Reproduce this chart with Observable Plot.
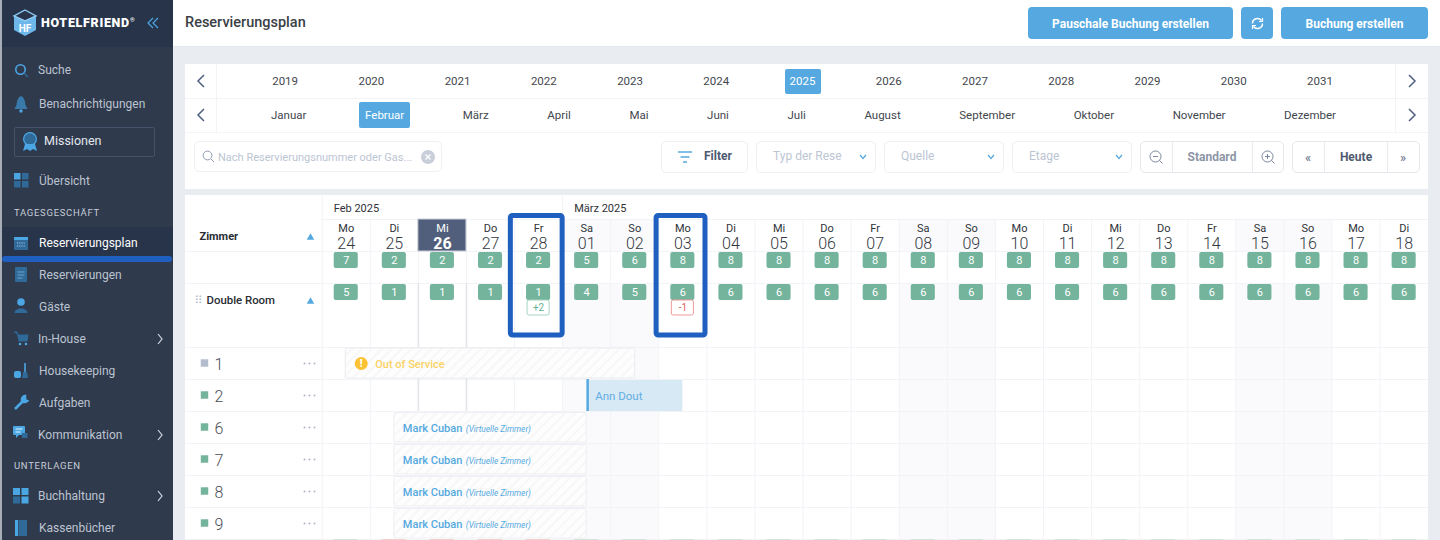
<!DOCTYPE html>
<html lang="de">
<head>
<meta charset="utf-8">
<title>Reservierungsplan</title>
<script src="https://cdn.jsdelivr.net/npm/d3@7"></script>
<script src="https://cdn.jsdelivr.net/npm/@observablehq/plot@0.6"></script>
<style>
  html,body{margin:0;padding:0;background:#e9ecf0;font-family:Roboto,sans-serif;overflow:hidden;}
  #app{position:relative;width:1440px;height:540px;overflow:hidden;}
  .a{position:absolute;box-sizing:border-box;}
  .t{position:absolute;white-space:nowrap;transform:translateY(-50%);line-height:1;}
  .c{text-align:center;transform:translate(-50%,-50%);}
  .box{position:absolute;box-sizing:border-box;background:#fff;border:1px solid #eef0f4;border-radius:5px;}
  .btn{position:absolute;box-sizing:border-box;background:#55a9e0;border-radius:4px;color:#fff;font-weight:700;font-size:12px;display:flex;align-items:center;justify-content:center;padding-top:1px;}
  svg.i{position:absolute;overflow:visible;}
  #chart{position:absolute;left:185px;top:195px;}
</style>
</head>
<body>
<div id="app"></div>
<script>
// ---------- chart data ----------
const firstDay = new Date(Date.UTC(2025, 1, 24));
const dayCount = 23;
const weekdayNames = ["Mo","Di","Mi","Do","Fr","Sa","So","Mo","Di","Mi","Do","Fr","Sa","So","Mo","Di","Mi","Do","Fr","Sa","So","Mo","Di"];
const dayNumbers = ["24","25","26","27","28","01","02","03","04","05","06","07","08","09","10","11","12","13","14","15","16","17","18"];
const totalCounts = [7,2,2,2,2,5,6,8,8,8,8,8,8,8,8,8,8,8,8,8,8,8,8];
const doubleRoomCounts = [5,1,1,1,1,4,5,6,6,6,6,6,6,6,6,6,6,6,6,6,6,6,6];
const nextRowStatus = ["ok","no","no","no","no","ok","ok","ok","ok","ok","ok","ok","ok","ok","ok","ok","ok","ok","ok","ok","ok","ok","ok"];
const todayIndex = 2;
const monthLabels = [{label:"Feb 2025", index:0},{label:"März 2025", index:5}];
const deltas = [{index:4, text:"+2", kind:"up"},{index:7, text:"-1", kind:"down"}];
const highlighted = [4, 7];
const roomNames = ["1","2","6","7","8","9"];
const roomBlocked = [true,false,false,false,false,false];
const hatchedBookings = [
  {room:"6", guest:"Mark Cuban", note:"(Virtuelle Zimmer)", from:[1,25,12], to:[2,1,12]},
  {room:"7", guest:"Mark Cuban", note:"(Virtuelle Zimmer)", from:[1,25,12], to:[2,1,12]},
  {room:"8", guest:"Mark Cuban", note:"(Virtuelle Zimmer)", from:[1,25,12], to:[2,1,12]},
  {room:"9", guest:"Mark Cuban", note:"(Virtuelle Zimmer)", from:[1,25,12], to:[2,1,12]}
];
const outOfService = [{room:"1", label:"Out of Service", from:[1,24,12], to:[2,2,12]}];
const guestBookings = [{room:"2", guest:"Ann Dout", from:[2,1,12], to:[2,3,12]}];

// ---------- chrome labels ----------
const years = ["2019","2020","2021","2022","2023","2024","2025","2026","2027","2028","2029","2030","2031"];
const months = ["Januar","Februar","März","April","Mai","Juni","Juli","August","September","Oktober","November","Dezember"];
const activeYear = "2025", activeMonth = "Februar";

// ---------- helpers over the data ----------
const ds = (i)=> new Date(firstDay.getTime()+i*864e5);
const stamp = ([m,d,h])=> new Date(Date.UTC(2025,m,d,h));
const days = d3.range(dayCount).map(i=>({i,day:ds(i),next:ds(i+1),name:weekdayNames[i],num:dayNumbers[i],total:totalCounts[i],dbl:doubleRoomCounts[i],status:nextRowStatus[i]}));
const ROW = {month:0, day:1, total:2, type:3, firstRoom:5};
const roomRow = (r)=> ROW.firstRoom + roomNames.indexOf(r);
const rooms = roomNames.map((r,k)=>({room:r,row:roomRow(r),blocked:roomBlocked[k]}));
const mid = (d)=> new Date(d.getTime()+432e5);
const weekend = days.filter(d=>d.name==="Sa"||d.name==="So");
const today = days[todayIndex];
const f = "Roboto, sans-serif";

// ---------- chart ----------
const hatchDefs = () => {
  const defs = d3.create("svg:defs");
  const p = defs.append("pattern").attr("id","hatch").attr("width",7).attr("height",7)
    .attr("patternUnits","userSpaceOnUse").attr("patternTransform","rotate(-45)");
  p.append("rect").attr("width",7).attr("height",7).attr("fill","#fdfdfd");
  p.append("line").attr("x1",0).attr("x2",7).attr("y1",3).attr("y2",3).attr("stroke","#f3f4f4").attr("stroke-width",1.2);
  return defs.node();
};
const gridLine = "#f1f3f6";
const chart = Plot.plot({
  width:1243, height:345, margin:0,
  style:{fontFamily:f, background:"transparent", overflow:"hidden"},
  x:{type:"utc", domain:[firstDay, ds(dayCount)], range:[136.7,1242.7], axis:null},
  y:{type:"linear", domain:[0,12], range:[-8,376], axis:null},
  marks:[
    hatchDefs,
    // weekend shading
    Plot.rect(weekend,{x1:"day",x2:"next",y1:()=>ROW.day,y2:()=>ROW.total,fill:"#fafafc"}),
    Plot.rect(weekend,{x1:"day",x2:"next",y1:()=>ROW.type,y2:()=>12,fill:"#fafafc"}),
    // grid
    Plot.ruleX(days,{x:"day",y1:()=>ROW.day,y2:()=>12,stroke:gridLine}),
    Plot.ruleY([ROW.total,ROW.type,...rooms.map(r=>r.row),ROW.firstRoom+roomNames.length],{stroke:gridLine}),
    Plot.ruleY([ROW.day],{x1:()=>firstDay,x2:()=>ds(dayCount),stroke:gridLine}),
    Plot.ruleX(monthLabels,{x:d=>ds(d.index),y1:()=>0.25,y2:()=>ROW.day,stroke:gridLine}),
    // today's column
    Plot.ruleX([today.day,today.next],{y1:()=>ROW.type,y2:()=>7,stroke:"#e3e5ea",strokeWidth:1.6}),
    Plot.rect([today],{x1:"day",x2:"next",y1:()=>ROW.day,y2:()=>ROW.total,fill:"#525f7c",stroke:"#c9cdd5"}),
    // month and day headers
    Plot.text(monthLabels,{x:d=>ds(d.index),y:()=>0.5,dy:5,dx:11.5,text:"label",textAnchor:"start",fontSize:11,fill:"#2f3237"}),
    Plot.text(days.filter(d=>d!==today),{x:d=>mid(d.day),y:()=>ROW.day+0.5,dy:-7,text:"name",fontSize:11,fill:"#2f3237"}),
    Plot.text(days.filter(d=>d!==today),{x:d=>mid(d.day),y:()=>ROW.day+0.5,dy:8,text:"num",fontSize:16,fontWeight:300,fill:"#333842"}),
    Plot.text([today],{x:d=>mid(d.day),y:()=>ROW.day+0.5,dy:-7,text:"name",fontSize:11,fill:"#fff"}),
    Plot.text([today],{x:d=>mid(d.day),y:()=>ROW.day+0.5,dy:8,text:"num",fontSize:16,fontWeight:700,fill:"#fff"}),
    // availability badges
    Plot.rect(days,{x1:"day",x2:"next",y1:()=>ROW.total,y2:()=>ROW.total+1,insetLeft:12,insetRight:12,insetTop:1,insetBottom:15,fill:"#74b49c",rx:2}),
    Plot.text(days,{x:d=>mid(d.day),y:()=>ROW.total+0.5,dy:-7,text:"total",fontSize:11,fill:"#fff"}),
    Plot.rect(days,{x1:"day",x2:"next",y1:()=>ROW.type,y2:()=>ROW.type+1,insetLeft:12,insetRight:12,insetTop:1,insetBottom:15,fill:"#74b49c",rx:2}),
    Plot.text(days,{x:d=>mid(d.day),y:()=>ROW.type+0.5,dy:-7,text:"dbl",fontSize:11,fill:"#fff"}),
    // over/under-booking deltas
    Plot.rect(deltas,{x1:d=>ds(d.index),x2:d=>ds(d.index+1),y1:()=>ROW.type+0.5,y2:()=>ROW.type+1,insetLeft:13,insetRight:13,insetTop:1,insetBottom:0,fill:"#fff",stroke:d=>d.kind==="up"?"#a5d3c0":"#ef9a9a",rx:2}),
    Plot.text(deltas,{x:d=>mid(ds(d.index)),y:()=>ROW.type+0.75,text:"text",fontSize:10,fill:d=>d.kind==="up"?"#63b092":"#e25c5c"}),
    // left column
    Plot.text(["Zimmer"],{y:()=>ROW.day+0.5,dy:1,frameAnchor:"left",dx:14,textAnchor:"start",fontSize:11,fontWeight:700,fill:"#2a2d33"}),
    Plot.dot([ROW.day+0.5,ROW.type+0.5],{y:d=>d,dy:2,frameAnchor:"left",dx:125,symbol:"triangle",r:2.8,fill:"#55a9e0"}),
    Plot.text(["⠿"],{y:()=>ROW.type+0.5,dy:1,frameAnchor:"left",dx:9,fontSize:11,fill:"#b5bfce",fontFamily:"DejaVu Sans"}),
    Plot.text(["Double Room"],{y:()=>ROW.type+0.5,dy:1,frameAnchor:"left",dx:21,textAnchor:"start",fontSize:11.4,fontWeight:500,fill:"#2a2d33"}),
    Plot.dot(rooms,{y:d=>d.row+0.5,dy:-0.5,frameAnchor:"left",dx:19,symbol:"square",r:4.2,fill:d=>d.blocked?"#b3bdce":"#74b49c"}),
    Plot.text(rooms,{y:d=>d.row+0.5,dy:1,frameAnchor:"left",dx:29,textAnchor:"start",text:"room",fontSize:16,fontWeight:300,fill:"#4a4e55"}),
    ...[119,124,129].map(dx=>Plot.dot(rooms,{y:d=>d.row+0.5,frameAnchor:"left",dx,r:1,fill:"#aeb6c4"})),
    // bookings
    Plot.rect(outOfService,{x1:d=>stamp(d.from),x2:d=>stamp(d.to),y1:d=>roomRow(d.room),y2:d=>roomRow(d.room)+1,insetTop:1,insetBottom:1,insetLeft:-0.5,insetRight:-0.5,fill:"url(#hatch)",stroke:"#e9ebee",rx:1}),
    Plot.dot(outOfService,{x:d=>stamp(d.from),y:d=>roomRow(d.room)+0.5,dx:15,r:6.5,fill:"#fbc334"}),
    Plot.text(outOfService,{x:d=>stamp(d.from),y:d=>roomRow(d.room)+0.5,dx:15,text:()=>"!",fontSize:10,fontWeight:900,fill:"#fff"}),
    Plot.text(outOfService,{x:d=>stamp(d.from),y:d=>roomRow(d.room)+0.5,dy:1,dx:29,text:"label",textAnchor:"start",fontSize:11,fontWeight:500,fill:"#fbd265"}),
    Plot.rect(guestBookings,{x1:d=>stamp(d.from),x2:d=>stamp(d.to),y1:d=>roomRow(d.room),y2:d=>roomRow(d.room)+1,insetTop:1,fill:"#d8e9f6"}),
    Plot.ruleX(guestBookings,{x:d=>stamp(d.from),y1:d=>roomRow(d.room),y2:d=>roomRow(d.room)+1,dx:1,stroke:"#55a9e0",strokeWidth:2.4}),
    Plot.text(guestBookings,{x:d=>stamp(d.from),y:d=>roomRow(d.room)+0.5,dy:1,dx:8.5,text:"guest",textAnchor:"start",fontSize:11.5,fontWeight:400,fill:"#62aee2"}),
    Plot.rect(hatchedBookings,{x1:d=>stamp(d.from),x2:d=>stamp(d.to),y1:d=>roomRow(d.room),y2:d=>roomRow(d.room)+1,insetTop:1.5,insetBottom:1,fill:"url(#hatch)",stroke:"#eeeff2",rx:1}),
    Plot.text(hatchedBookings,{x:d=>stamp(d.from),y:d=>roomRow(d.room)+0.5,dy:1,dx:8.5,text:"guest",textAnchor:"start",fontSize:11,fontWeight:500,fill:"#55a9e0"}),
    Plot.text(hatchedBookings,{x:d=>stamp(d.from),y:d=>roomRow(d.room)+0.5,dy:2,dx:71.5,text:"note",textAnchor:"start",fontSize:8.3,fontStyle:"italic",fill:"#55a9e0"}),
    // next row, cut by the window
    Plot.rect(days.filter(d=>d.status==="ok"),{x1:"day",x2:"next",y1:()=>11,y2:()=>12,insetLeft:12,insetRight:12,fill:"#cfe5db"}),
    Plot.rect(days.filter(d=>d.status==="no"),{x1:"day",x2:"next",y1:()=>11,y2:()=>12,insetLeft:12,insetRight:12,fill:"#f1cfcf"}),
    // highlighted columns
    ...highlighted.map((i,k)=>Plot.rect([i],{x1:d=>ds(d),x2:d=>ds(d+1),y1:()=>ROW.day,y2:()=>ROW.firstRoom,
      insetLeft:k?-2.2:-3.7,insetRight:k?1.4:0,insetTop:-3.5,insetBottom:12,fill:"none",stroke:"#1f5fbf",strokeWidth:5,rx:2}))
  ]
});
chart.id = "chart";

// ---------- page chrome ----------
const app = document.getElementById("app");
function div(cls,css,html){const e=document.createElement("div");e.className=cls;e.style.cssText=css;if(html!==undefined)e.innerHTML=html;app.appendChild(e);return e;}
function rect(x,y,w,h,bg,extra=""){return div("a",`left:${x}px;top:${y}px;width:${w}px;height:${h}px;background:${bg};${extra}`);}
function text(x,y,s,css=""){return div("t",`left:${x}px;top:${y+0.4}px;${css}`,s);}
function ctext(x,y,s,css=""){return div("t c",`left:${x}px;top:${y}px;${css}`,s);}
function icon(x,y,w,h,inner){const n=document.createElementNS("http://www.w3.org/2000/svg","svg");n.setAttribute("class","i");n.setAttribute("width",w);n.setAttribute("height",h);n.setAttribute("viewBox",`0 0 ${w} ${h}`);n.style.left=x+"px";n.style.top=y+"px";n.innerHTML=inner;app.appendChild(n);}
const L="#4ba6e4", D="#2f6a99";

// main surfaces
rect(173,0,1267,47,"#fff","border-bottom:1px solid #e4e7eb");
text(185,23,"Reservierungsplan","font-size:14.5px;font-weight:500;color:#3a3e45");
rect(185,64,1243,125,"#fff");
rect(185,195,1243,345,"#fff");
rect(185,98,1243,1,"#f3f4f6"); rect(185,132,1243,1,"#f3f4f6");
rect(216,64,1,69,"#f3f4f6"); rect(1395,64,1,69,"#f3f4f6");
app.appendChild(chart);

// sidebar
rect(0,0,173,540,"#2f3a4d");
rect(0,0,173,47,"#28344a");
rect(0,0,2,540,"#a8aeb8");
rect(2,227,171,30,"#28344a");
rect(2,256,170,6,"#1f5fbf","border-radius:3px;z-index:3");
icon(13,9,24,28,`<path d="M12 1 L23 7 V21 L12 27 L1 21 V7 Z" fill="#6db7ea"/><path d="M12 1 L23 7 L12 12 L1 7 Z" fill="#28344a" stroke="#8ecbf2" stroke-width="1.4"/><text x="12" y="23" font-size="10" font-weight="700" fill="#fff" text-anchor="middle" font-family="Roboto">HF</text>`);
text(41,23,'HOTELFRIEND<sup style="font-size:6px">®</sup>',"font-size:12.5px;font-weight:900;color:#fff;letter-spacing:.7px");
icon(147,17,12,12,`<path d="M6 1 L1 6 L6 11 M11 1 L6 6 L11 11" fill="none" stroke="#4ba6e4" stroke-width="1.2"/>`);

const sideItems = [["Suche",70,38],["Benachrichtigungen",104,39],["Übersicht",181,39],["Reservierungsplan",243,39],["Reservierungen",275,39],["Gäste",307,39],["In-House",339,38],["Housekeeping",371,39],["Aufgaben",403,39],["Kommunikation",435,38],["Buchhaltung",496,38],["Kassenbücher",528,39]];
sideItems.forEach(([s,y,x])=>text(x,y,s,`font-size:12px;color:${s==="Reservierungsplan"?"#fff":"#bcc4d0"}`));
text(14,213,"TAGESGESCHÄFT","font-size:9.5px;letter-spacing:.7px;color:#c6ccd6");
text(14,466,"UNTERLAGEN","font-size:9.5px;letter-spacing:.7px;color:#c6ccd6");
rect(14,127,141,30,"transparent","border:1px solid #46526a;border-radius:2px");
text(44,141,"Missionen","font-size:12.5px;color:#e4e8ee");
[339,435,496].forEach(y=>icon(156,y-6,8,12,`<path d="M2 1 L6 6 L2 11" fill="none" stroke="#d5dae2" stroke-width="1.2"/>`));
// sidebar icons
icon(14,63,15,15,`<circle cx="6.5" cy="6.5" r="4.7" fill="none" stroke="${L}" stroke-width="1.6"/><path d="M10 10 L14 14" stroke="${D}" stroke-width="1.4"/>`);
icon(14,95,14,18,`<path d="M7 1 C3 3 3 7 2.5 10 L0.5 14 H13.5 L11.5 10 C11 7 11 3 7 1Z" fill="#3a7aaa"/><circle cx="7" cy="16" r="1.7" fill="${L}"/>`);
icon(22,132,16,20,`<circle cx="8" cy="7" r="6.4" fill="${D}" stroke="${L}" stroke-width="1.2"/><path d="M3 12 L1 19 L5 17 L8 19 L11 17 L15 19 L13 12Z" fill="${L}"/>`);
icon(14,173,15,15,`<rect width="6.5" height="6.5" fill="${L}"/><rect x="8" width="6.5" height="6.5" fill="${D}"/><rect y="8" width="6.5" height="6.5" fill="${D}"/><rect x="8" y="8" width="6.5" height="6.5" fill="${D}"/>`);
icon(14,235,15,16,`<rect y="2" width="14" height="13" rx="1" fill="${D}"/><rect y="2" width="14" height="3" fill="${L}"/><path d="M3 8h8M3 11h8" stroke="#9fc7e6" stroke-width="1.2" stroke-dasharray="1.2 1"/>`);
icon(15,267,13,16,`<rect width="12" height="15" rx="1" fill="${D}"/><path d="M2.5 5h7M2.5 8h7M2.5 11h5" stroke="#6ea4cc" stroke-width="1"/>`);
icon(14,298,14,16,`<circle cx="7" cy="4" r="3.8" fill="${L}"/><path d="M0.5 15 C0.5 9 13.5 9 13.5 15Z" fill="${D}"/>`);
icon(14,331,15,16,`<path d="M0 1 H3 L5 10 H13 L14 4 H4" fill="${D}" stroke="${D}"/><circle cx="6" cy="13" r="1.3" fill="${L}"/><circle cx="12" cy="13" r="1.3" fill="${L}"/>`);
icon(14,363,15,16,`<rect y="8" width="7" height="7" rx="2" fill="${L}"/><path d="M11 0 V9" stroke="${L}" stroke-width="1.6"/><path d="M8 15 L9 9 H13 L14 15Z" fill="${D}"/>`);
icon(14,395,15,16,`<path d="M1 14 L9 6 M11 1 A4 4 0 0 0 8 6 A4 4 0 0 0 13 6 L11 5Z" stroke="${L}" stroke-width="2.6" fill="${L}"/>`);
icon(13,426,15,15,`<rect width="12" height="9" rx="1" fill="${L}"/><path d="M3 9 V12 L6 9Z" fill="${L}"/><path d="M2.5 3h7M2.5 6h5" stroke="#e7f2fb" stroke-width="1"/><rect x="9" y="7" width="5.5" height="5" fill="${D}"/>`);
icon(13,488,16,15,`<rect width="7" height="7" fill="${L}"/><rect x="8.5" width="7" height="7" fill="${L}"/><rect y="8.5" width="7" height="7" fill="${D}"/><rect x="8.5" y="8.5" width="7" height="7" fill="${L}"/>`);
icon(15,520,12,16,`<rect width="3" height="16" fill="${L}"/><rect x="3.5" width="8.5" height="16" fill="${D}"/>`);

// top buttons
div("btn","left:1028px;top:7px;width:205px;height:32px","Pauschale Buchung erstellen");
div("btn","left:1241px;top:7px;width:32px;height:32px");
icon(1251,17,13,13,`<path d="M1.5 6.5 A5 5 0 0 1 10.5 3.5 M11.5 6.5 A5 5 0 0 1 2.5 9.5" fill="none" stroke="#fff" stroke-width="1.5"/><path d="M11.5 1 V4.5 H8 M1.5 12 V8.5 H5" fill="none" stroke="#fff" stroke-width="1.2"/>`);
div("btn","left:1281px;top:7px;width:147px;height:32px","Buchung erstellen");

// year strip
const yearStrip = div("a","left:242px;top:64px;width:1121px;height:34px;display:flex");
years.forEach(y=>{const e=document.createElement("div");e.style.cssText="flex:1;display:flex;align-items:center;justify-content:center;position:relative;font-size:11.5px;color:"+(y===activeYear?"#fff":"#43474e");
  e.innerHTML=y===activeYear?`<span style="background:#55a9e0;border-radius:2px;width:36px;height:25px;display:flex;align-items:center;justify-content:center">${y}</span>`:y;yearStrip.appendChild(e);});
// month strip
const monthStrip = div("a","left:271px;top:98px;width:1065px;height:33px;display:flex;justify-content:space-between;align-items:center;font-size:11.5px;color:#43474e");
months.forEach(m=>{const e=document.createElement("span");e.textContent=m;if(m===activeMonth){e.style.cssText="position:relative;color:#fff;z-index:1";const b=document.createElement("span");b.style.cssText="position:absolute;left:-6px;right:-6px;top:-6px;bottom:-6px;background:#55a9e0;border-radius:2px;z-index:-1";e.appendChild(b);}monthStrip.appendChild(e);});
const chev=(x,y,d)=>icon(x,y,10,14,`<path d="${d>0?'M2 1 L8 7 L2 13':'M8 1 L2 7 L8 13'}" fill="none" stroke="#4f5f80" stroke-width="1.5"/>`);
chev(196,74,-1);chev(196,108,-1);chev(1407,74,1);chev(1407,108,1);

// toolbar
div("box","left:194px;top:141px;width:248px;height:31px");
icon(202,150,13,13,`<circle cx="5.5" cy="5.5" r="4.4" fill="none" stroke="#8f9bb0" stroke-width="1"/><path d="M9 9 L12 12" stroke="#8f9bb0"/>`);
text(218,156.5,"Nach Reservierungsnummer oder Gas...","font-size:11px;color:#bcc5d3");
icon(421,150,14,14,`<circle cx="7" cy="7" r="7" fill="#c8cfda"/><path d="M4.5 4.5 L9.5 9.5 M9.5 4.5 L4.5 9.5" stroke="#fff" stroke-width="1.3"/>`);
div("box","left:661px;top:141px;width:87px;height:32px");
icon(678,151,14,12,`<path d="M0 1h14M2.5 6h9M5 11h4" stroke="#55a9e0" stroke-width="1.5"/>`);
text(704,156,"Filter","font-size:12px;font-weight:700;color:#4f5a70");
[[756,120,"Typ der Rese"],[884,120,"Quelle"],[1012,120,"Etage"]].forEach(([x,w,s])=>{
  div("box",`left:${x}px;top:141px;width:${w}px;height:32px`);
  text(x+17,156,s,"font-size:12px;color:#bcc5d3");
  icon(x+103,154,8,6,`<path d="M1 1 L4 4.5 L7 1" fill="none" stroke="#55a9e0" stroke-width="1.2"/>`);
});
div("box","left:1140px;top:141px;width:144px;height:32px;border-color:#e4e7ec");
rect(1172,141,1,32,"#e8eaee"); rect(1252,141,1,32,"#e8eaee");
ctext(1212,157,"Standard","font-size:12px;font-weight:700;color:#8d95a6");
const zoomIcon=(x,plus)=>icon(x,150,14,14,`<circle cx="6.5" cy="6.5" r="5.5" fill="none" stroke="#7c889d" stroke-width="1"/><path d="M4 6.5h5${plus?'M6.5 4v5':''}M10.5 10.5L13.5 13.5" stroke="#7c889d" stroke-width="1"/>`);
zoomIcon(1149,false);zoomIcon(1261,true);
div("box","left:1292px;top:141px;width:128px;height:32px;border-color:#e4e7ec");
rect(1324,141,1,32,"#e8eaee"); rect(1387,141,1,32,"#e8eaee");
ctext(1308,157,"«","font-size:13px;color:#606c84");
ctext(1356,157,"Heute","font-size:12px;font-weight:700;color:#4f5a70");
ctext(1403,157,"»","font-size:13px;color:#606c84");
</script>
</body>
</html>
